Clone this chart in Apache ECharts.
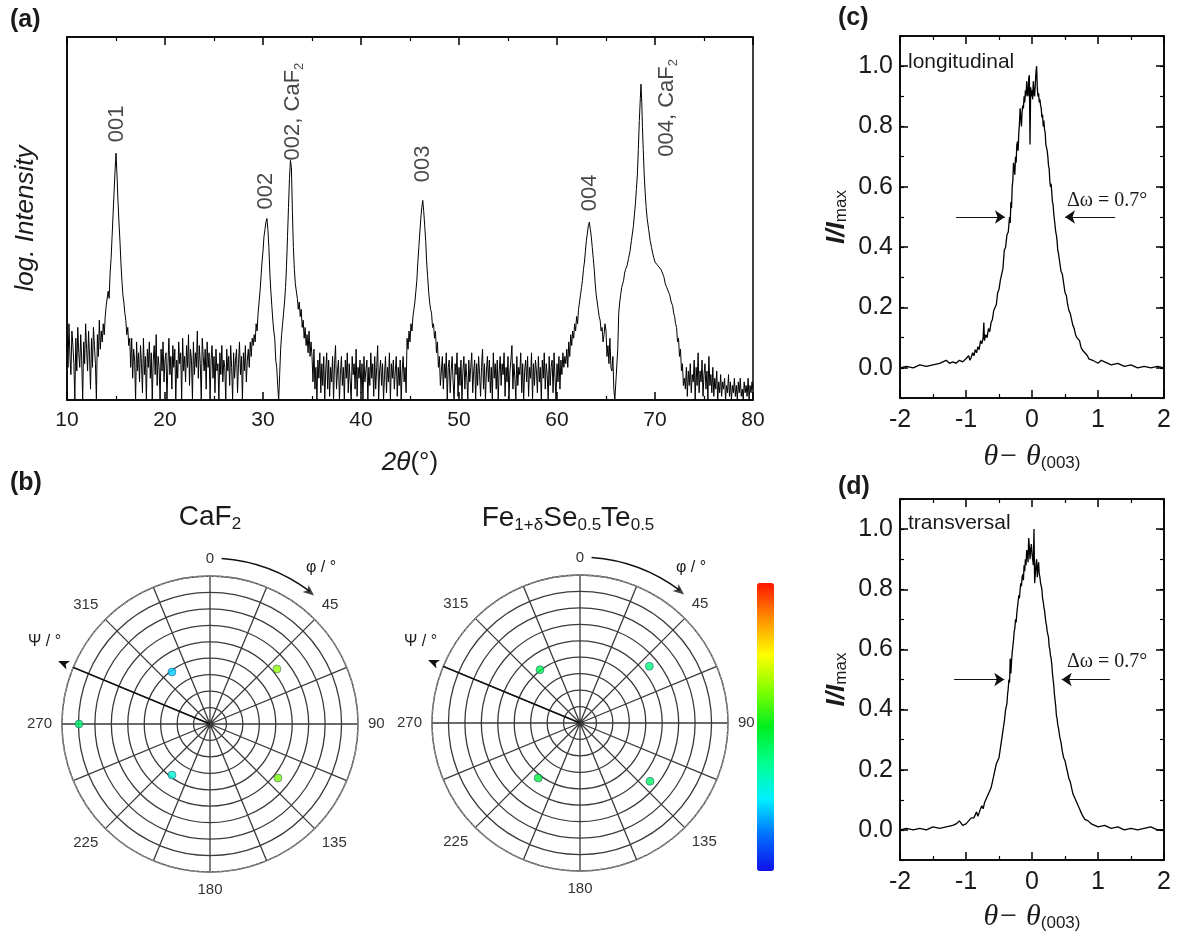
<!DOCTYPE html>
<html>
<head>
<meta charset="utf-8">
<script src="https://cdn.jsdelivr.net/npm/echarts@6/dist/echarts.min.js"></script>
<style>
  html, body { margin: 0; padding: 0; background: #fff; }
  #fig { width: 1179px; height: 949px; }
</style>
</head>
<body>
<div id="fig"></div>
<script>
  // (a) theta-2theta scan. Background stretches are read at 0.1 deg steps
  // (first angle given), the reflections as [2theta, log intensity] pairs.
  var bgStart = [10.0, 16.5, 35.0, 48.3, 73.1];
  var bgNoise1 = [18,9,21,12,7,19,15,10,0,17, 8,20,13,9,18,11,0,16,10,21, 14,8,19,12,3,17,9,20,15,10, 0,18,12,22,14,19,16,21,18,23];
  var bgNoise2 = [9,17,6,14,11,0,16,8,13,5, 15,10,2,17,7,12,0,14,9,16, 6,13,0,11,15,7,18,4,12,9, 0,14,8,16,5,11,13,0,10,17,
    7,12,3,15,9,14,0,11,6,16, 10,13,0,17,8,12,5,15,9,18, 4,14,11,0,16,7,13,9,19,6, 15,10,0,17,12,8,14,3,16,9,
    13,0,11,15,6,12,2,14,8,10, 0,13,7,15,5,11,9,0,14,8, 12,4,15,9,0,13,6,11,14,2, 10,16,7,12,0,13,8,15,5,11, 14,9,16,12,17];
  var bgNoise3 = [12,5,14,3,9,0,11,6,13,2, 10,4,12,0,8,13,3,11,1,9, 5,12,0,10,15,3,8,11,0,7, 12,4,9,0,11,6,13,2,10,5,
    0,12,7,10,3,14,1,9,6,11, 2,10,0,12,5,8,11,0,9,4, 13,6,10,1,12,3,9,15,0,8, 11,4,10,0,7,12,2,9,5,13,
    0,10,6,11,3,8,12,1,9,4, 11,0,8,12,5,9];
  var bgNoise4 = [12,3,10,6,13,0,9,11,2,8, 12,5,0,10,7,13,1,9,4,11, 0,8,12,3,10,6,0,11,5,9, 13,2,8,11,0,10,4,12,7,1,
    9,14,3,10,0,8,12,5,11,2, 9,0,13,6,10,3,11,0,8,12, 4,10,7,13,1,9,5,12,0,8, 11,15,3,10,6,0,12,4,9,7,
    13,2,10,0,8,11,5,12,1,9, 6,13,0,10,4,11,8,2,12,5, 9,0,11,6,13,3,10,7,0,12, 4,9,11,2,13,6,0,10,5,12, 3,11,7,13,9,12,10];
  var bgNoise5 = [3,9,1,8,4,10,2,7,5,11, 0,9,4,13,2,8,5,11,1,7, 10,3,8,0,12,4,7,2,9,1, 6,3,8,0,5,2,7,1,5,3,
    6,0,4,2,7,1,5,0,4,2, 6,1,4,0,5,2,6,1,3,0, 5,2,4,1,6,0,4,2,5,3];
  var peak001 = [[14.0,26],[14.2,30],[14.3,28],[14.4,35],[14.5,39],[14.6,45],[14.7,51],[14.8,57],[14.9,63],[15.0,68],
    [15.1,62],[15.2,55],[15.3,49],[15.4,44],[15.5,38],[15.6,33],[15.7,29],[15.8,27],[15.9,24],[16.0,22],[16.1,18],[16.2,20],[16.3,15],[16.4,17]];
  var peak002 = [[29.0,15],[29.1,18],[29.2,16],[29.3,21],[29.4,19],[29.5,24],[29.6,27],[29.7,30],[29.8,34],[29.9,38],[30.0,41],[30.1,45],[30.2,47],[30.3,49],[30.4,50],
    [30.5,47],[30.6,42],[30.7,35],[30.8,30],[30.9,26],[31.0,22],[31.1,19],[31.2,17],[31.3,11],[31.4,9],[31.5,4],[31.6,0],
    [31.7,7],[31.8,14],[31.9,18],[32.0,21],[32.1,24],[32.2,27],[32.3,31],[32.4,37],[32.5,45],[32.6,53],[32.7,61],[32.8,66],
    [32.9,64],[33.0,52],[33.1,42],[33.2,36],[33.3,32],[33.4,30],[33.5,28],[33.6,25],[33.7,27],[33.8,23],[33.9,25],[34.0,20],
    [34.1,22],[34.2,17],[34.3,20],[34.4,15],[34.5,18],[34.6,13],[34.7,19],[34.8,12],[34.9,16]];
  var peak003 = [[44.6,2],[44.7,17],[44.8,14],[44.9,19],[45.0,16],[45.1,21],[45.2,19],[45.3,23],[45.4,25],[45.5,27],[45.6,30],[45.7,33],[45.8,38],[45.9,42],[46.0,46],
    [46.1,50],[46.2,53],[46.3,55],[46.4,52],[46.5,48],[46.6,44],[46.7,38],[46.8,34],[46.9,30],[47.0,27],[47.1,25],
    [47.2,24],[47.3,20],[47.4,21],[47.5,17],[47.6,19],[47.7,13],[47.8,16],[47.9,9],[48.0,12],[48.1,4],[48.2,8]];
  var peak004 = [[61.0,14],[61.1,9],[61.2,16],[61.3,12],[61.4,18],[61.5,15],[61.6,19],[61.7,17],[61.8,21],[61.9,19],[62.0,23],[62.1,21],[62.2,25],[62.3,27],
    [62.4,29],[62.5,31],[62.6,33],[62.7,36],[62.8,38],[62.9,41],[63.0,44],[63.1,46],[63.2,48],[63.3,49],[63.4,47],[63.5,45],[63.6,42],[63.7,39],[63.8,36],
    [63.9,32],[64.0,29],[64.1,27],[64.2,25],[64.3,23],[64.4,22],[64.5,19],[64.6,20],[64.7,16],[64.8,18],[64.9,21],[65.0,19],[65.1,12],[65.2,15],[65.3,10],[65.4,17],
    [65.5,9],[65.6,8],[65.7,12],[65.8,3],[65.9,0],[66.1,0],[66.2,14],[66.3,24],[66.4,27],[66.5,29],[66.6,31],[66.7,32],[66.8,33],[66.9,35],
    [67.0,36],[67.15,37],[67.3,39],[67.45,41],[67.6,44],[67.7,46],[67.8,48],[67.9,51],[68.0,54],[68.1,58],[68.2,62],[68.3,69],[68.4,77],[68.5,83],[68.57,87],
    [68.65,82],[68.72,75],[68.8,69],[68.9,62],[69.0,57],[69.1,53],[69.2,50],[69.35,47],[69.5,44],[69.65,42],[69.8,40],[70.0,38],[70.15,38],[70.3,37],[70.45,37],[70.6,36],
    [70.75,35],[70.9,34],[71.05,32],[71.2,31],[71.35,30],[71.5,29],[71.65,27],[71.8,26],[71.9,24],[72.0,23],[72.1,21],[72.2,20],[72.3,16],[72.4,17],[72.5,12],[72.6,14],
    [72.7,8],[72.8,10],[72.9,4],[73.0,6]];

  // reflection tags in (a): [2theta, height where the tag starts]
  var peakTags = [
    { name: '001', value: [15.1, 71] },
    { name: '002', value: [30.35, 52.5] },
    { name: '002, CaF{s|2}', value: [33.1, 66] },
    { name: '003', value: [46.3, 60] },
    { name: '004', value: [63.4, 52] },
    { name: '004, CaF{s|2}', value: [71.2, 67] }
  ];

  // (c), (d) rocking curves, [theta - theta(003), I/Imax]
  var rockLongitudinal = [
    [-2.0,0.0],[-1.9,0.005],[-1.8,0.0],[-1.7,0.01],[-1.6,0.005],[-1.5,0.01],[-1.4,0.015],[-1.3,0.025],
    [-1.25,0.015],[-1.2,0.02],[-1.15,0.015],[-1.1,0.025],[-1.05,0.02],[-1.0,0.03],[-0.96,0.04],[-0.94,0.025],[-0.92,0.035],
    [-0.9,0.05],[-0.88,0.04],[-0.86,0.06],[-0.84,0.05],[-0.82,0.07],[-0.8,0.06],[-0.78,0.09],[-0.76,0.08],[-0.74,0.1],[-0.73,0.15],[-0.72,0.09],
    [-0.7,0.11],[-0.68,0.1],[-0.66,0.13],[-0.64,0.12],[-0.62,0.15],[-0.6,0.16],[-0.58,0.19],[-0.56,0.2],[-0.54,0.21],[-0.52,0.25],[-0.5,0.26],
    [-0.48,0.29],[-0.46,0.31],[-0.44,0.33],[-0.42,0.39],[-0.4,0.4],[-0.38,0.44],[-0.36,0.45],
    [-0.34,0.5],[-0.33,0.48],[-0.32,0.55],[-0.31,0.53],[-0.3,0.6],[-0.29,0.62],[-0.28,0.68],[-0.27,0.66],[-0.26,0.64],[-0.25,0.7],[-0.24,0.68],[-0.23,0.74],[-0.22,0.75],[-0.21,0.72],[-0.2,0.78],
    [-0.19,0.81],[-0.18,0.86],[-0.17,0.83],[-0.16,0.8],[-0.15,0.85],[-0.14,0.87],[-0.13,0.86],[-0.12,0.9],[-0.11,0.88],[-0.1,0.92],[-0.09,0.9],[-0.08,0.95],[-0.07,0.91],[-0.06,0.9],[-0.05,0.96],[-0.04,0.97],
    [-0.03,0.74],[-0.02,0.93],[-0.01,0.9],[0.0,0.92],[0.01,0.89],[0.02,0.95],[0.03,0.91],[0.04,0.9],[0.05,0.94],[0.06,0.98],[0.07,1.0],[0.08,0.93],
    [0.09,0.9],[0.1,0.91],[0.11,0.88],[0.12,0.89],[0.13,0.87],[0.14,0.86],[0.15,0.83],[0.16,0.84],[0.17,0.8],[0.18,0.82],[0.19,0.79],[0.2,0.78],[0.21,0.74],[0.22,0.73],[0.23,0.72],[0.24,0.7],
    [0.25,0.67],[0.26,0.66],[0.27,0.62],[0.28,0.6],[0.29,0.61],[0.3,0.58],[0.31,0.55],[0.32,0.54],[0.33,0.51],[0.34,0.49],[0.35,0.47],[0.36,0.45],[0.37,0.44],[0.38,0.42],[0.39,0.39],[0.4,0.38],
    [0.42,0.35],[0.44,0.32],[0.46,0.31],[0.48,0.28],[0.5,0.25],[0.52,0.24],[0.54,0.21],[0.56,0.19],[0.58,0.18],[0.6,0.16],[0.62,0.14],[0.64,0.13],[0.66,0.11],[0.68,0.1],[0.7,0.1],[0.72,0.09],
    [0.74,0.07],[0.76,0.06],[0.78,0.065],[0.8,0.05],[0.82,0.045],[0.84,0.04],[0.86,0.03],[0.88,0.03],[0.92,0.025],[0.96,0.02],[1.0,0.015],[1.05,0.025],[1.1,0.02],
    [1.2,0.01],[1.3,0.015],[1.4,0.005],[1.5,0.01],[1.6,0.0],[1.7,0.005],[1.8,0.0],[1.9,0.005],[2.0,0.0]
  ];
  var rockTransversal = [
    [-2.0,0.0],[-1.9,0.005],[-1.8,0.0],[-1.7,0.005],[-1.6,0.0],[-1.5,0.01],[-1.4,0.005],[-1.3,0.01],
    [-1.2,0.015],[-1.15,0.02],[-1.1,0.03],[-1.05,0.015],[-1.0,0.02],[-0.96,0.03],[-0.94,0.025],[-0.92,0.04],[-0.9,0.035],[-0.88,0.04],
    [-0.86,0.05],[-0.84,0.06],[-0.82,0.045],[-0.8,0.05],[-0.78,0.07],[-0.76,0.08],[-0.74,0.07],[-0.72,0.09],[-0.7,0.1],[-0.68,0.1],[-0.66,0.12],[-0.64,0.13],[-0.62,0.14],[-0.6,0.16],
    [-0.58,0.18],[-0.56,0.2],[-0.54,0.22],[-0.52,0.23],[-0.5,0.24],[-0.48,0.27],[-0.46,0.3],[-0.44,0.33],[-0.42,0.36],[-0.4,0.4],[-0.38,0.42],[-0.37,0.45],[-0.36,0.47],[-0.35,0.5],[-0.34,0.49],[-0.33,0.57],[-0.32,0.52],
    [-0.31,0.56],[-0.3,0.59],[-0.29,0.61],[-0.28,0.63],[-0.27,0.66],[-0.26,0.67],[-0.25,0.7],[-0.24,0.69],[-0.23,0.72],[-0.22,0.74],[-0.21,0.76],[-0.2,0.78],[-0.19,0.77],[-0.18,0.8],[-0.17,0.82],[-0.16,0.81],[-0.15,0.84],[-0.14,0.85],[-0.13,0.83],[-0.12,0.88],
    [-0.11,0.86],[-0.1,0.9],[-0.09,0.88],[-0.08,0.93],[-0.07,0.92],[-0.06,0.89],[-0.05,0.97],[-0.04,0.94],[-0.03,0.9],[-0.02,0.93],[-0.01,0.95],[0.0,0.92],[0.01,0.9],[0.02,0.88],[0.03,1.0],
    [0.04,0.82],[0.05,0.85],[0.06,0.88],[0.07,0.9],[0.08,0.84],[0.09,0.87],[0.1,0.89],[0.11,0.85],[0.12,0.84],[0.13,0.82],[0.14,0.81],[0.15,0.8],[0.16,0.77],[0.17,0.76],[0.18,0.74],[0.19,0.73],
    [0.2,0.71],[0.21,0.69],[0.22,0.68],[0.23,0.66],[0.24,0.65],[0.25,0.64],[0.26,0.61],[0.27,0.6],[0.28,0.58],[0.29,0.57],[0.3,0.55],[0.31,0.52],[0.32,0.5],[0.33,0.48],[0.34,0.45],[0.35,0.43],[0.36,0.41],[0.37,0.38],[0.38,0.37],[0.39,0.35],
    [0.4,0.34],[0.42,0.31],[0.44,0.29],[0.46,0.26],[0.48,0.24],[0.5,0.23],[0.52,0.21],[0.54,0.19],[0.56,0.17],[0.58,0.16],[0.6,0.14],[0.62,0.12],[0.64,0.11],[0.66,0.1],[0.68,0.09],[0.7,0.08],
    [0.72,0.07],[0.74,0.06],[0.76,0.05],[0.78,0.045],[0.8,0.035],[0.82,0.04],[0.85,0.03],[0.9,0.02],[0.95,0.015],[1.0,0.01],[1.1,0.015],[1.2,0.005],
    [1.3,0.01],[1.4,0.0],[1.5,0.005],[1.6,0.0],[1.7,0.005],[1.8,0.01],[1.9,0.0],[2.0,0.0]
  ];
  var fwhmLong = [[-1.15, -0.41], [1.26, 0.5]];   // arrow tail, arrow head
  var fwhmTrans = [[-1.18, -0.42], [1.18, 0.45]];

  // (b) pole figure spots, [psi, phi, rel. intensity]
  var poleCaF2 = [[39.2, 323.8, 0.22], [52.7, 50.6, 0.64], [38.7, 216.7, 0.3], [52.8, 128.5, 0.62], [79.7, 270, 0.42]];
  var poleFeSeTe = [[40.5, 323.1, 0.45], [54.5, 50.7, 0.4], [42, 217.2, 0.47], [55.4, 129.8, 0.43]];

  var yMajor = [0, 0.2, 0.4, 0.6, 0.8, 1.0];
  var sans = '"Liberation Sans", Arial, Helvetica, sans-serif';
  var serif = '"Liberation Serif", "Times New Roman", serif';
  var ink = '#1a1a1a';
  var poleCenters = [[210, 724], [580, 723]];
  var poleRadius = 148;

  var xrdScan = [];
  [bgNoise1, peak001, bgNoise2, peak002, bgNoise3, peak003, bgNoise4, peak004, bgNoise5].forEach(function (part, i) {
    if (i % 2 === 0) {
      var t0 = bgStart[i / 2];
      part.forEach(function (v, k) { xrdScan.push([Math.round((t0 + k * 0.1) * 10) / 10, v]); });
    } else {
      part.forEach(function (p) { xrdScan.push(p); });
    }
  });

  var chart = echarts.init(document.getElementById('fig'));

  function xAx(grid, min, max, pos, labelSize, name, gap) {
    return {
      type: 'value', gridIndex: grid, min: min, max: max, interval: (max - min) > 10 ? 10 : 1,
      position: pos,
      axisLine: { onZero: false, lineStyle: { color: '#000', width: 1.5 } },
      axisTick: { inside: true, length: 8, lineStyle: { color: '#000', width: 1.5 } },
      minorTick: { show: true, splitNumber: 2, length: 4, lineStyle: { color: '#000', width: 1.2 } },
      axisLabel: { show: pos === 'bottom', fontSize: labelSize, color: ink, fontFamily: sans, margin: 10 },
      splitLine: { show: false },
      name: pos === 'bottom' ? name : '',
      nameLocation: 'middle', nameGap: gap,
      nameTextStyle: {
        color: ink, fontFamily: sans, fontSize: 26,
        rich: {
          i: { fontStyle: 'italic', fontSize: 26, fontFamily: sans, color: ink },
          t: { fontStyle: 'italic', fontSize: 30, fontFamily: serif, color: ink },
          s: { fontSize: 17, fontFamily: sans, color: ink, verticalAlign: 'bottom', padding: [12, 0, 0, 0] }
        }
      }
    };
  }

  function yMajorAx(grid, pos, name) {
    return {
      type: 'value', gridIndex: grid, min: -0.1, max: 1.1, position: pos,
      axisLine: { show: true, onZero: false, lineStyle: { color: '#000', width: 1.5 } },
      axisTick: { show: true, inside: true, length: 8, customValues: yMajor, lineStyle: { color: '#000', width: 1.5 } },
      axisLabel: {
        show: pos === 'left', customValues: yMajor, fontSize: 25, color: ink, fontFamily: sans, margin: 7,
        formatter: function (v) { return v.toFixed(1); }
      },
      splitLine: { show: false },
      name: pos === 'left' ? name : '',
      nameLocation: 'middle', nameGap: 50, nameRotate: 90,
      nameTextStyle: {
        rich: {
          b: { fontStyle: 'italic', fontWeight: 'bold', fontSize: 26, fontFamily: sans, color: ink },
          s: { fontSize: 17, fontFamily: sans, color: ink, verticalAlign: 'bottom', padding: [10, 0, 0, 0] }
        }
      }
    };
  }

  function yMinorAx(grid, pos) {
    return {
      type: 'value', gridIndex: grid, min: -0.1, max: 1.1, interval: 0.1, position: pos,
      axisLine: { show: false, onZero: false },
      axisTick: { show: true, inside: true, length: 4, lineStyle: { color: '#000', width: 1.2 } },
      axisLabel: { show: false },
      splitLine: { show: false }
    };
  }

  function angleAx(idx) {
    return {
      polarIndex: idx, type: 'value', min: 0, max: 360, interval: 22.5,
      startAngle: 90, clockwise: true,
      axisLine: { show: true, lineStyle: { color: '#8a8a8a', width: 1.5, type: [4, 1] } },
      axisTick: { show: false },
      splitLine: { show: true, lineStyle: { color: '#3a3a3a', width: 1.3 } },
      axisLabel: {
        fontSize: 15, color: '#333', fontFamily: sans, margin: 10,
        formatter: function (v) { return (v % 45 === 0 && v < 360) ? String(v) : ''; }
      }
    };
  }

  function radiusAx(idx) {
    return {
      polarIndex: idx, type: 'value', min: 0, max: 90, interval: 10,
      axisLine: { show: false }, axisTick: { show: false }, axisLabel: { show: false },
      splitLine: { show: true, lineStyle: { color: '#3a3a3a', width: 1.3 } }
    };
  }

  function spotSeries(idx, data) {
    return {
      type: 'scatter', coordinateSystem: 'polar', polarIndex: idx, data: data,
      symbolSize: 8, itemStyle: { borderColor: 'rgba(30,40,110,0.55)', borderWidth: 1 },
      silent: true, z: 5
    };
  }

  function psiArrow(idx) {
    return {
      type: 'line', coordinateSystem: 'polar', polarIndex: idx, clip: false, silent: true,
      symbol: 'circle', symbolSize: 0, showSymbol: true,
      lineStyle: { color: '#111', width: 1.5 },
      data: [[0, 292.5], { value: [100, 292.5], symbol: 'arrow', symbolSize: [7, 11], symbolRotate: 67.5, itemStyle: { color: '#111' } }],
      z: 6
    };
  }

  // head of the curved phi arrow; the arc itself is a graphic element
  function phiHead(idx) {
    return {
      type: 'scatter', coordinateSystem: 'polar', polarIndex: idx, clip: false, silent: true,
      symbol: 'arrow', symbolSize: [7, 11], symbolRotate: 230,
      itemStyle: { color: '#111' },
      data: [[100.5, 39]], z: 6
    };
  }

  function phiArc(c) {
    var toRad = Math.PI / 180;
    return {
      type: 'arc', silent: true, z: 6,
      shape: { cx: c[0], cy: c[1], r: 166, startAngle: (4 - 90) * toRad, endAngle: (37 - 90) * toRad, clockwise: true },
      style: { stroke: '#111', lineWidth: 1.5, fill: null }
    };
  }

  function fwhmMarks(arrows) {
    return {
      silent: true, symbol: ['none', 'arrow'], symbolSize: 10,
      lineStyle: { color: '#111', width: 1.2, type: 'solid' },
      label: { show: false },
      data: arrows.map(function (a) {
        return [{ coord: [a[0], 0.5] }, { coord: [a[1], 0.5] }];
      })
    };
  }

  function txt(x, y, text, size, extra) {
    var st = { text: text, x: x, y: y, fontSize: size, fontFamily: sans, fill: ink, textAlign: 'left', textVerticalAlign: 'middle' };
    for (var k in extra) st[k] = extra[k];
    return { type: 'text', style: st, z: 10 };
  }

  var subRich = {
    s: { fontSize: 17, fontFamily: sans, fill: ink, verticalAlign: 'bottom', padding: [14, 0, 0, 0] },
    m: { fontSize: 28, fontFamily: sans, fill: ink }
  };

  var option = {
    animation: false,
    backgroundColor: '#fff',
    grid: [
      { left: 67, top: 37, width: 686, height: 363, show: true, borderColor: '#000', borderWidth: 1.5 },
      { left: 900, top: 36, width: 264, height: 362, show: true, borderColor: '#000', borderWidth: 1.5 },
      { left: 900, top: 499, width: 264, height: 361, show: true, borderColor: '#000', borderWidth: 1.5 }
    ],
    xAxis: [
      xAx(0, 10, 80, 'bottom', 21, '{i|2θ}(°)', 50),
      xAx(0, 10, 80, 'top', 21, '', 0),
      xAx(1, -2, 2, 'bottom', 25, '{t|θ− θ}{s|(003)}', 44),
      xAx(1, -2, 2, 'top', 25, '', 0),
      xAx(2, -2, 2, 'bottom', 25, '{t|θ− θ}{s|(003)}', 42),
      xAx(2, -2, 2, 'top', 25, '', 0)
    ],
    yAxis: [
      {
        type: 'value', gridIndex: 0, min: 0, max: 100,
        axisLine: { show: true, onZero: false, lineStyle: { color: '#000', width: 1.5 } },
        axisTick: { show: false }, axisLabel: { show: false }, splitLine: { show: false },
        name: 'log. Intensity', nameLocation: 'middle', nameGap: 28, nameRotate: 90,
        nameTextStyle: { fontStyle: 'italic', fontSize: 26, fontFamily: sans, color: ink }
      },
      yMajorAx(1, 'left', '{b|I/I}{s|max}'),
      yMinorAx(1, 'left'),
      yMajorAx(1, 'right', ''),
      yMinorAx(1, 'right'),
      yMajorAx(2, 'left', '{b|I/I}{s|max}'),
      yMinorAx(2, 'left'),
      yMajorAx(2, 'right', ''),
      yMinorAx(2, 'right')
    ],
    polar: [
      { center: poleCenters[0], radius: poleRadius },
      { center: poleCenters[1], radius: poleRadius }
    ],
    angleAxis: [angleAx(0), angleAx(1)],
    radiusAxis: [radiusAx(0), radiusAx(1)],
    visualMap: {
      type: 'continuous', min: 0, max: 1, dimension: 2, seriesIndex: [6, 7],
      left: 757, top: 583, itemWidth: 17, itemHeight: 288, padding: 0,
      calculable: false, realtime: false, hoverLink: false,
      inRange: { color: ['#1010e8', '#0070ff', '#00f0ff', '#00ff90', '#00ee20', '#80ff00', '#ffff00', '#ff9000', '#ff1500'] }
    },
    series: [
      {
        type: 'line', xAxisIndex: 0, yAxisIndex: 0, data: xrdScan, showSymbol: false, silent: true,
        lineStyle: { color: '#000', width: 1 }
      },
      {
        type: 'scatter', xAxisIndex: 0, yAxisIndex: 0, data: peakTags, symbolSize: 0, silent: true,
        label: {
          show: true, formatter: '{b}', position: 'inside', rotate: 90, align: 'left', verticalAlign: 'middle',
          fontSize: 22, lineHeight: 26, color: ink, fontFamily: sans,
          rich: { s: { fontSize: 13, lineHeight: 12, fontFamily: sans, color: ink, verticalAlign: 'bottom' } }
        }
      },
      {
        type: 'line', xAxisIndex: 2, yAxisIndex: 1, data: rockLongitudinal, showSymbol: false, silent: true,
        lineStyle: { color: '#000', width: 1.3 }, markLine: fwhmMarks(fwhmLong)
      },
      {
        type: 'line', xAxisIndex: 4, yAxisIndex: 5, data: rockTransversal, showSymbol: false, silent: true,
        lineStyle: { color: '#000', width: 1.3 }, markLine: fwhmMarks(fwhmTrans)
      },
      psiArrow(0),
      psiArrow(1),
      spotSeries(0, poleCaF2),
      spotSeries(1, poleFeSeTe),
      phiHead(0),
      phiHead(1)
    ],
    graphic: [
      phiArc(poleCenters[0]),
      phiArc(poleCenters[1]),
      txt(10, 20, '(a)', 25, { fontWeight: 'bold' }),
      txt(10, 483, '(b)', 25, { fontWeight: 'bold' }),
      txt(838, 18, '(c)', 25, { fontWeight: 'bold' }),
      txt(838, 487, '(d)', 25, { fontWeight: 'bold' }),
      txt(908, 62, 'longitudinal', 21),
      txt(908, 523, 'transversal', 21),
      txt(1067, 201, 'Δω = 0.7°', 20, { fontFamily: serif }),
      txt(1067, 662, 'Δω = 0.7°', 20, { fontFamily: serif }),
      txt(210, 517, '{m|CaF}{s|2}', 28, { textAlign: 'center', rich: subRich }),
      txt(568, 518, '{m|Fe}{s|1+δ}{m|Se}{s|0.5}{m|Te}{s|0.5}', 28, { textAlign: 'center', rich: subRich }),
      txt(306, 568, 'φ / °', 16),
      txt(676, 568, 'φ / °', 16),
      txt(28, 642, 'Ψ / °', 16),
      txt(404, 642, 'Ψ / °', 16)
    ]
  };

  chart.setOption(option);
  window.addEventListener('resize', function () { chart.resize(); });
</script>
</body>
</html>
